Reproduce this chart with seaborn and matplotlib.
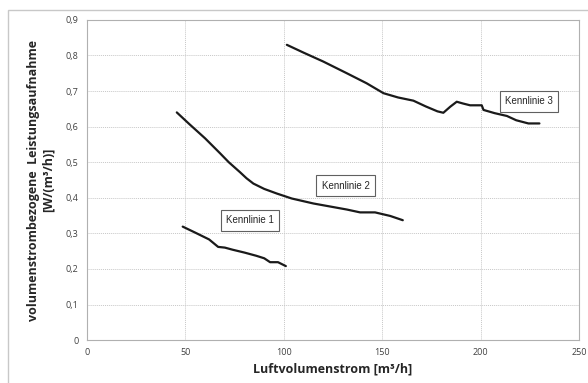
import numpy as np
import pandas as pd
import matplotlib
matplotlib.use("Agg")
import matplotlib.pyplot as plt
from matplotlib.patches import Rectangle
import seaborn as sns

# Kennlinien
k1_x = [48.6, 55, 62, 66.6, 70, 74, 80, 86, 90, 93, 97, 101]
k1_y = [0.319, 0.302, 0.283, 0.262, 0.26, 0.254, 0.246, 0.237, 0.23, 0.219, 0.219, 0.208]

k2_x = [45.6, 52, 60, 67.6, 72, 77.7, 81, 84.5, 90, 96.4, 104, 115, 125, 132, 138.7, 146.3, 154, 160.4]
k2_y = [0.640, 0.607, 0.567, 0.525, 0.500, 0.472, 0.455, 0.440, 0.425, 0.412, 0.398, 0.384, 0.374, 0.367,
        0.359, 0.359, 0.349, 0.337]

k3_x = [101.5, 110, 120, 132, 142, 150.6, 158, 165.8, 172, 178, 181, 184.5, 187.8, 191, 194.6, 200.5,
        201.4, 207, 213.3, 218, 224.2, 229.8]
k3_y = [0.830, 0.808, 0.783, 0.750, 0.722, 0.694, 0.682, 0.673, 0.657, 0.643, 0.639, 0.656, 0.670, 0.665,
        0.660, 0.660, 0.647, 0.638, 0.630, 0.618, 0.609, 0.609]

kurven = [("Kennlinie 1", k1_x, k1_y), ("Kennlinie 2", k2_x, k2_y), ("Kennlinie 3", k3_x, k3_y)]
label_pos = {"Kennlinie 1": (82.8, 0.337), "Kennlinie 2": (131.4, 0.434), "Kennlinie 3": (224.6, 0.671)}

x_ticks = [0, 50, 100, 150, 200, 250]
y_ticks = [0, 0.1, 0.2, 0.3, 0.4, 0.5, 0.6, 0.7, 0.8, 0.9]

sns.set_style("white")
plt.rcParams["font.family"] = ["Open Sans", "DejaVu Sans"]

fig = plt.figure(figsize=(5.88, 3.83), dpi=100)
ax = fig.add_axes([0.148, 0.112, 0.837, 0.836])

# Rahmen um das ganze Diagramm
fig.patches.append(Rectangle((8 / 588, -0.01), 1.0, 1 - 10 / 383 + 0.01, transform=fig.transFigure,
                             fill=False, edgecolor="#c8c8c8", linewidth=1.0))

for name, xs, ys in kurven:
    df = pd.DataFrame({"x": xs, "y": ys})
    sns.lineplot(data=df, x="x", y="y", ax=ax, color="#1a1a1a", linewidth=1.6, sort=False)
    lx, ly = label_pos[name]
    ax.text(lx, ly, name, ha="center", va="center", fontsize=7, family="Liberation Sans",
            bbox=dict(boxstyle="square,pad=0.55", facecolor="white", edgecolor="#606060", linewidth=0.8))

ax.set_xlim(0, 250)
ax.set_ylim(0, 0.9)
ax.set_xticks(x_ticks)
ax.set_yticks(y_ticks)
ax.set_xticklabels([str(t) for t in x_ticks], fontsize=6.5, color="#404040")
ax.set_yticklabels(["0" if t == 0 else f"{t:.1f}".replace(".", ",") for t in y_ticks], fontsize=6.5, color="#404040")
ax.tick_params(axis="both", length=0, pad=6)
ax.grid(True, color="#c8c8c8", linestyle=(0, (1, 1)), linewidth=0.7)
for sp in ax.spines.values():
    sp.set_color("#b0b0b0")
    sp.set_linewidth(0.8)

ax.set_xlabel("Luftvolumenstrom [m³/h]", fontsize=9, fontweight="bold", labelpad=4)
ax.set_ylabel("volumenstrombezogene  Leistungsaufnahme\n[W/(m³/h)]", fontsize=9, fontweight="bold", labelpad=8)

fig.savefig("out.png", dpi=100)
